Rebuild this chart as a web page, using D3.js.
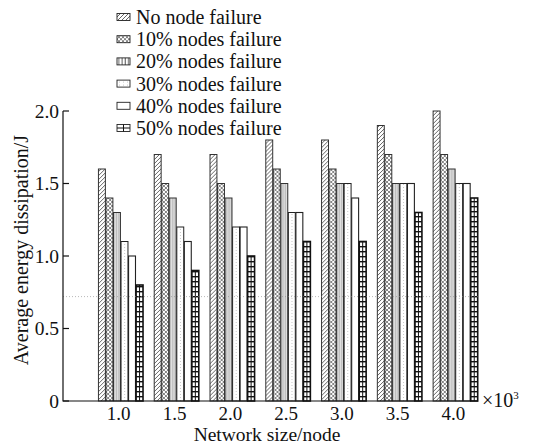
<!DOCTYPE html>
<html>
<head>
<meta charset="utf-8">
<script src="https://cdn.jsdelivr.net/npm/d3@7"></script>
<style>
  body { margin: 0; background: #fff; }
  text { font-family: "Liberation Serif", "DejaVu Serif", serif; fill: #111; }
</style>
</head>
<body>
<svg id="chart" width="534" height="446"></svg>
<script>
// data
var sizes = ["1.0", "1.5", "2.0", "2.5", "3.0", "3.5", "4.0"];
var seriesNames = ["No node failure", "10% nodes failure", "20% nodes failure",
                   "30% nodes failure", "40% nodes failure", "50% nodes failure"];
var noFailure  = [1.6, 1.7, 1.7, 1.8, 1.8, 1.9, 2.0];
var fail10     = [1.4, 1.5, 1.5, 1.6, 1.6, 1.7, 1.7];
var fail20     = [1.3, 1.4, 1.4, 1.5, 1.5, 1.5, 1.6];
var fail30     = [1.1, 1.2, 1.2, 1.3, 1.5, 1.5, 1.5];
var fail40     = [1.0, 1.1, 1.2, 1.3, 1.4, 1.5, 1.5];
var fail50     = [0.8, 0.9, 1.0, 1.1, 1.1, 1.3, 1.4];
var yTicks = [0, 0.5, 1.0, 1.5, 2.0];
var yTickLabels = ["0", "0.5", "1.0", "1.5", "2.0"];
var faintLine = 0.72;

var series = [noFailure, fail10, fail20, fail30, fail40, fail50];

var svg = d3.select("#chart");
var plotLeft = 63, plotRight = 478, plotTop = 111, plotBottom = 401;

var x = d3.scaleBand()
	.domain(sizes)
	.range([plotLeft, plotRight])
	.paddingInner(0.19)
	.paddingOuter(0.315)
	.align(1);

var xs = d3.scaleBand()
	.domain(d3.range(series.length))
	.range([0, x.bandwidth()]);

var y = d3.scaleLinear()
	.domain([0, 2])
	.range([plotBottom, plotTop]);

// patterns
var defs = svg.append("defs");

var p0 = defs.append("pattern").attr("id", "pat0")
	.attr("patternUnits", "userSpaceOnUse").attr("width", 4).attr("height", 4);
p0.append("rect").attr("width", 4).attr("height", 4).attr("fill", "#fff");
p0.append("path").attr("d", "M-1,1 l2,-2 M0,4 l4,-4 M3,5 l2,-2")
	.attr("stroke", "#555").attr("stroke-width", 0.9);

var p1 = defs.append("pattern").attr("id", "pat1")
	.attr("patternUnits", "userSpaceOnUse").attr("width", 4).attr("height", 4);
p1.append("rect").attr("width", 4).attr("height", 4).attr("fill", "#fff");
p1.append("path").attr("d", "M0,4 l4,-4 M0,0 l4,4 M-1,1 l2,-2 M3,5 l2,-2 M-1,3 l2,2 M3,-1 l2,2")
	.attr("stroke", "#666").attr("stroke-width", 0.8);

var p2 = defs.append("pattern").attr("id", "pat2")
	.attr("patternUnits", "objectBoundingBox").attr("width", 0.25).attr("height", 1)
	.attr("patternContentUnits", "objectBoundingBox");
p2.append("rect").attr("width", 0.25).attr("height", 1).attr("fill", "#fff");
p2.append("rect").attr("x", 0.1).attr("width", 0.08).attr("height", 1).attr("fill", "#666");

var p3 = defs.append("pattern").attr("id", "pat3")
	.attr("patternUnits", "userSpaceOnUse").attr("width", 4).attr("height", 3);
p3.append("rect").attr("width", 4).attr("height", 3).attr("fill", "#fff");
p3.append("rect").attr("x", 2).attr("y", 1).attr("width", 1).attr("height", 1).attr("fill", "#c8c8c8");

var p5 = defs.append("pattern").attr("id", "pat5")
	.attr("patternUnits", "userSpaceOnUse").attr("width", 10).attr("height", 5)
	.attr("y", plotBottom);
p5.append("rect").attr("width", 10).attr("height", 5).attr("fill", "#fff");
p5.append("rect").attr("width", 10).attr("height", 1.4).attr("fill", "#111");

var fills = ["url(#pat0)", "url(#pat1)", "url(#pat2)", "url(#pat3)", "#fff", "url(#pat5)"];
var strokes = ["#333", "#333", "#333", "#222", "#222", "#111"];
var strokeW = [1, 1, 1, 1, 1.1, 1.6];

// bars
var groups = svg.append("g").selectAll("g")
	.data(sizes)
	.enter().append("g")
	.attr("transform", function (d) { return "translate(" + x(d) + ",0)"; });

groups.selectAll("rect")
	.data(function (d, i) {
		return series.map(function (s, k) { return { k: k, v: s[i] }; });
	})
	.enter().append("rect")
	.attr("x", function (d) { return xs(d.k) + 0.3; })
	.attr("y", function (d) { return y(d.v); })
	.attr("width", xs.bandwidth() - 0.6)
	.attr("height", function (d) { return plotBottom - y(d.v); })
	.attr("fill", function (d) { return fills[d.k]; })
	.attr("stroke", function (d) { return strokes[d.k]; })
	.attr("stroke-width", function (d) { return strokeW[d.k]; });

// centre line of the brick bars
groups.append("line")
	.attr("x1", xs(5) + xs.bandwidth() / 2)
	.attr("x2", xs(5) + xs.bandwidth() / 2)
	.attr("y1", function (d, i) { return y(fail50[i]); })
	.attr("y2", plotBottom)
	.attr("stroke", "#111").attr("stroke-width", 1);

// faint dotted line over the plot
svg.append("line")
	.attr("x1", plotLeft).attr("x2", plotRight)
	.attr("y1", y(faintLine)).attr("y2", y(faintLine))
	.attr("stroke", "#888").attr("stroke-width", 0.6)
	.attr("stroke-dasharray", "1,2");

// axes
var axisG = svg.append("g");
axisG.append("path")
	.attr("d", "M" + plotLeft + "," + y(2) + "V" + plotBottom + "H" + plotRight)
	.attr("fill", "none").attr("stroke", "#111").attr("stroke-width", 1.2);

axisG.selectAll(".ytick")
	.data(yTicks)
	.enter().append("line")
	.attr("x1", plotLeft).attr("x2", plotLeft + 6)
	.attr("y1", function (d) { return y(d); })
	.attr("y2", function (d) { return y(d); })
	.attr("stroke", "#111").attr("stroke-width", 1.2);

axisG.selectAll(".ylab")
	.data(yTicks)
	.enter().append("text")
	.attr("x", plotLeft - 4)
	.attr("y", function (d) { return y(d); })
	.attr("dy", "0.35em")
	.attr("text-anchor", "end")
	.style("font-size", "19.5px")
	.text(function (d, i) { return yTickLabels[i]; });

axisG.selectAll(".xlab")
	.data(sizes)
	.enter().append("text")
	.attr("x", function (d) { return x(d) + x.bandwidth() / 2 - 2; })
	.attr("y", plotBottom + 19)
	.attr("text-anchor", "middle")
	.style("font-size", "19px")
	.text(function (d) { return d; });

var mult = svg.append("text")
	.attr("x", plotRight + 4)
	.attr("y", plotBottom + 6)
	.style("font-size", "20px");
mult.append("tspan").text("×10");
mult.append("tspan").attr("dy", -8).style("font-size", "11px").text("3");

svg.append("text")
	.attr("x", 267)
	.attr("y", 441)
	.attr("text-anchor", "middle")
	.style("font-size", "19.5px")
	.text("Network size/node");

svg.append("text")
	.attr("transform", "translate(28," + 250 + ") rotate(-90)")
	.attr("text-anchor", "middle")
	.style("font-size", "20px")
	.text("Average energy dissipation/J");

// legend
var legend = svg.append("g").selectAll("g")
	.data(seriesNames)
	.enter().append("g")
	.attr("transform", function (d, i) { return "translate(117," + (17 + i * 22.2) + ")"; });

legend.append("rect")
	.attr("x", 0).attr("y", -3.5)
	.attr("width", 13).attr("height", 7)
	.attr("fill", function (d, i) { return i === 5 ? "#fff" : fills[i]; })
	.attr("stroke", "#222").attr("stroke-width", 0.9);

legend.filter(function (d, i) { return i === 5; })
	.append("path")
	.attr("d", "M6.5,-3.5V3.5M0,0H13")
	.attr("stroke", "#111").attr("stroke-width", 1);

legend.append("text")
	.attr("x", 19)
	.attr("dy", "0.35em")
	.style("font-size", "20px")
	.text(function (d) { return d; });
</script>
</body>
</html>
